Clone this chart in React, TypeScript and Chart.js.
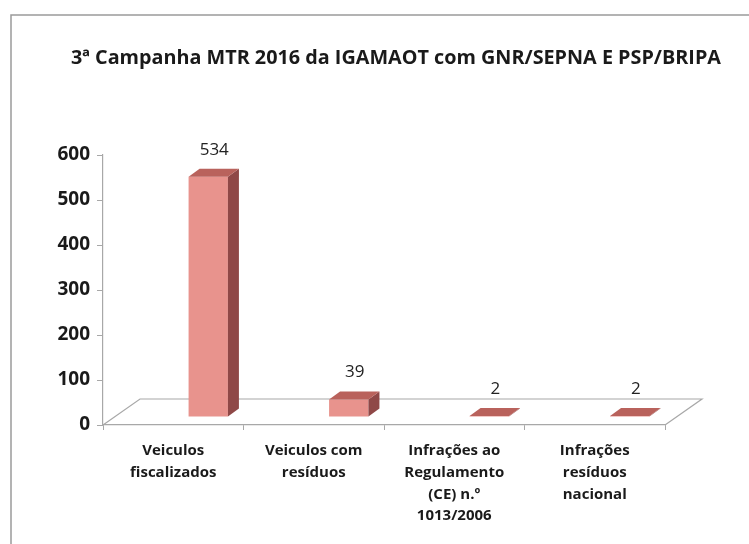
import React, { useEffect, useRef } from "react";
import { Chart, registerables } from "chart.js";

Chart.register(...registerables);

const TITLE = "3ª Campanha MTR 2016 da IGAMAOT com GNR/SEPNA E PSP/BRIPA";
const categories: string[][] = [
  ["Veiculos", "fiscalizados"],
  ["Veiculos com", "resíduos"],
  ["Infrações ao", "Regulamento", "(CE) n.º", "1013/2006"],
  ["Infrações", "resíduos", "nacional"],
];
const values: number[] = [534, 39, 2, 2];
const yTicks: number[] = [0, 100, 200, 300, 400, 500, 600];

const FONT = "'Liberation Sans Narrow', 'Open Sans', Arial, sans-serif";
const FRONT = "#e8938d";
const TOP = "#b9625c";
const SIDE = "#8f4847";
const DX = 35;
const DY = -8;
const DEPTH_X = 11;
const DEPTH_Y = -8;
const FLOOR_X = 37;
const FLOOR_Y = -26;

const framePlugin = {
  id: "frame",
  beforeDraw(chart: any) {
    const ctx = chart.ctx;
    ctx.save();
    ctx.fillStyle = "#ffffff";
    ctx.fillRect(0, 0, chart.width, chart.height);
    ctx.strokeStyle = "#9a9a9a";
    ctx.lineWidth = 1.5;
    ctx.strokeRect(11, 15, chart.width + 20, chart.height + 20);
    // title
    ctx.fillStyle = "#1a1a1a";
    ctx.font = `bold 19.8px ${FONT}`;
    ctx.textAlign = "center";
    ctx.textBaseline = "middle";
    ctx.fillText(TITLE, 396, 58);
    ctx.restore();
  },
  beforeDatasetsDraw(chart: any) {
    const ctx = chart.ctx;
    const a = chart.chartArea;
    // floor
    ctx.save();
    ctx.strokeStyle = "#a8a8a8";
    ctx.lineWidth = 1.2;
    ctx.beginPath();
    ctx.moveTo(a.left, a.bottom);
    ctx.lineTo(a.left + FLOOR_X, a.bottom + FLOOR_Y);
    ctx.lineTo(a.right + FLOOR_X, a.bottom + FLOOR_Y);
    ctx.lineTo(a.right, a.bottom);
    ctx.stroke();
    ctx.restore();
    ctx.save();
    ctx.translate(DX, DY);
  },
  afterDatasetsDraw(chart: any) {
    const ctx = chart.ctx;
    const meta = chart.getDatasetMeta(0);
    meta.data.forEach((bar: any) => {
      const left = bar.x - bar.width / 2;
      const right = bar.x + bar.width / 2;
      const top = bar.y;
      const base = bar.base;
      // side face
      ctx.fillStyle = SIDE;
      ctx.beginPath();
      ctx.moveTo(right, top);
      ctx.lineTo(right + DEPTH_X, top + DEPTH_Y);
      ctx.lineTo(right + DEPTH_X, base + DEPTH_Y);
      ctx.lineTo(right, base);
      ctx.closePath();
      ctx.fill();
      // top face
      ctx.fillStyle = TOP;
      ctx.beginPath();
      ctx.moveTo(left, top);
      ctx.lineTo(left + DEPTH_X, top + DEPTH_Y);
      ctx.lineTo(right + DEPTH_X, top + DEPTH_Y);
      ctx.lineTo(right, top);
      ctx.closePath();
      ctx.fill();
    });
    ctx.restore();
    // value labels
    ctx.save();
    ctx.fillStyle = "#222222";
    ctx.font = `17px ${FONT}`;
    ctx.textAlign = "center";
    ctx.textBaseline = "middle";
    meta.data.forEach((bar: any, i: number) => {
      ctx.fillText(String(values[i]), bar.x + DX + 6, bar.y + DY - 27);
    });
    ctx.restore();
  },
};

export default function App() {
  const ref = useRef<HTMLCanvasElement | null>(null);
  useEffect(() => {
    if (!ref.current) return;
    const chart = new Chart(ref.current, {
      type: "bar",
      data: {
        labels: categories,
        datasets: [
          {
            data: values,
            backgroundColor: FRONT,
            borderWidth: 0,
            barPercentage: 0.28,
            categoryPercentage: 1,
          },
        ],
      },
      options: {
        animation: false,
        responsive: false,
        layout: { padding: { left: 0, right: 84, top: 155, bottom: 0 } },
        plugins: {
          legend: { display: false },
          tooltip: { enabled: false },
          title: { display: false },
        },
        scales: {
          x: {
            offset: true,
            grid: {
              display: true,
              drawOnChartArea: false,
              offset: true,
              tickLength: 5,
              color: "#a8a8a8",
            },
            border: { display: true, color: "#a8a8a8", width: 1.2 },
            ticks: {
              color: "#1a1a1a",
              font: { family: FONT, size: 15, weight: "bold", lineHeight: 1.45 },
              padding: 10,
              maxRotation: 0,
              autoSkip: false,
            },
            afterFit(scale: any) {
              scale.height = 119;
            },
          },
          y: {
            min: 0,
            max: 600,
            afterBuildTicks(scale: any) {
              scale.ticks = yTicks.map((v) => ({ value: v }));
            },
            grid: {
              display: true,
              drawOnChartArea: false,
              tickLength: 6,
              color: "#a8a8a8",
            },
            border: { display: true, color: "#a8a8a8", width: 1.2 },
            ticks: {
              color: "#1a1a1a",
              font: { family: FONT, size: 19, weight: "bold" },
              padding: 7,
            },
            afterFit(scale: any) {
              scale.width = 103;
            },
          },
        },
      },
      plugins: [framePlugin],
    });
    return () => chart.destroy();
  }, []);
  return (
    <div style={{ position: "fixed", left: 0, top: 0, width: 749, height: 544, background: "#fff" }}>
      <canvas ref={ref} width={749} height={544} style={{ display: "block" }} />
    </div>
  );
}
